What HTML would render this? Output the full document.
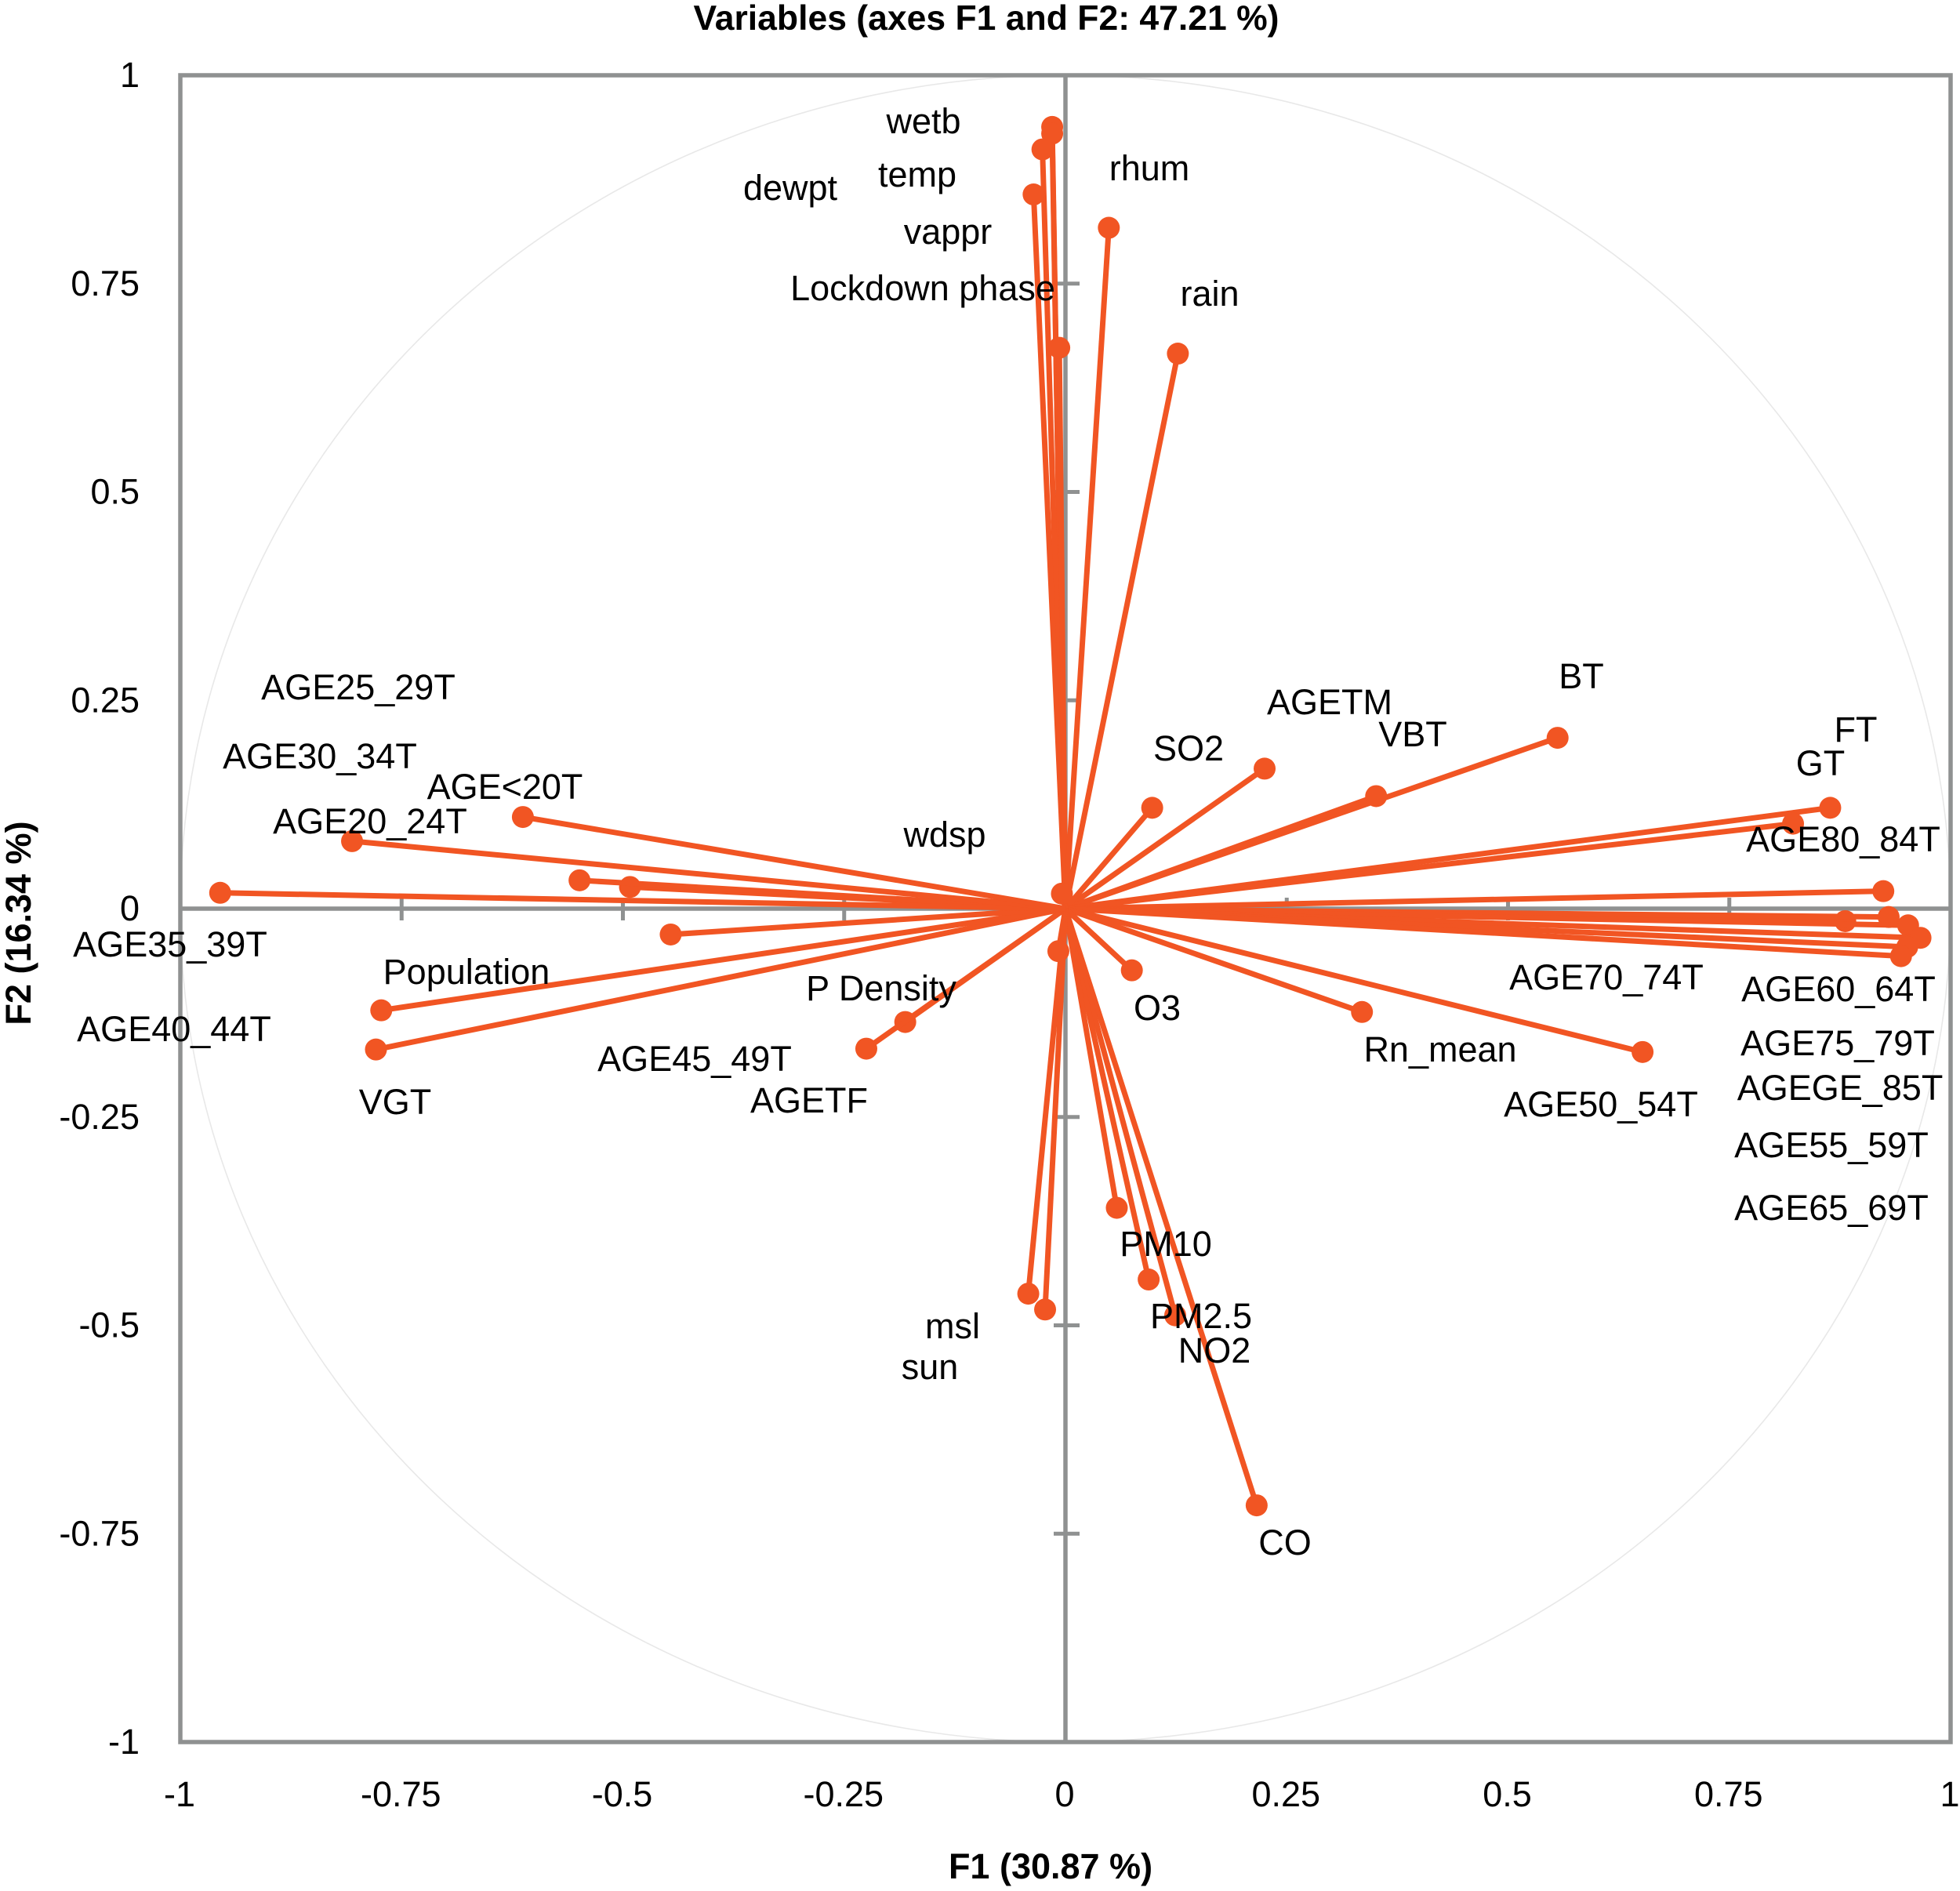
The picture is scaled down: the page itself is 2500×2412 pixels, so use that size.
<!DOCTYPE html>
<html lang="en">
<head>
<meta charset="utf-8">
<title>Variables (axes F1 and F2: 47.21 %)</title>
<style>
html,body{margin:0;padding:0;background:#fff;}
svg{display:block;}
text{font-family:"Liberation Sans",Arial,sans-serif;fill:#000;}
.lab{font-size:45px;text-anchor:middle;}
.ttl{font-size:45px;font-weight:bold;text-anchor:middle;}
</style>
</head>
<body>
<svg id="chart" xmlns="http://www.w3.org/2000/svg" width="2500" height="2412" viewBox="0 0 2500 2412">
<rect x="0" y="0" width="2500" height="2412" fill="#ffffff"/>
<g id="circle-layer"></g>
<g id="axis-layer"></g>
<g id="series-layer"></g>
<g id="tick-label-layer"></g>
<g transform="translate(0 -1)">
<text class="lab" x="1178" y="171">wetb</text>
<text class="lab" x="1466" y="231">rhum</text>
<text class="lab" x="1170" y="239">temp</text>
<text class="lab" x="1008" y="256">dewpt</text>
<text class="lab" x="1209" y="312">vappr</text>
<text class="lab" x="1177" y="384">Lockdown phase</text>
<text class="lab" x="1543" y="391">rain</text>
<text class="lab" x="2017" y="879">BT</text>
<text class="lab" x="457" y="893">AGE25_29T</text>
<text class="lab" x="1696" y="912">AGETM</text>
<text class="lab" x="2367" y="947">FT</text>
<text class="lab" x="1802" y="953">VBT</text>
<text class="lab" x="1516" y="971">SO2</text>
<text class="lab" x="408" y="981">AGE30_34T</text>
<text class="lab" x="2322" y="990">GT</text>
<text class="lab" x="644" y="1020">AGE&lt;20T</text>
<text class="lab" x="472" y="1064">AGE20_24T</text>
<text class="lab" x="1205" y="1081">wdsp</text>
<text class="lab" x="2351" y="1087">AGE80_84T</text>
<text class="lab" x="217" y="1221">AGE35_39T</text>
<text class="lab" x="595" y="1256">Population</text>
<text class="lab" x="2049" y="1263">AGE70_74T</text>
<text class="lab" x="1124" y="1277">P Density</text>
<text class="lab" x="2345" y="1278">AGE60_64T</text>
<text class="lab" x="1476" y="1302">O3</text>
<text class="lab" x="222" y="1329">AGE40_44T</text>
<text class="lab" x="2344" y="1347">AGE75_79T</text>
<text class="lab" x="1837" y="1355">Rn_mean</text>
<text class="lab" x="886" y="1367">AGE45_49T</text>
<text class="lab" x="2347" y="1404">AGEGE_85T</text>
<text class="lab" x="1032" y="1420">AGETF</text>
<text class="lab" x="504" y="1422">VGT</text>
<text class="lab" x="2042" y="1425">AGE50_54T</text>
<text class="lab" x="2336" y="1477">AGE55_59T</text>
<text class="lab" x="2336" y="1557">AGE65_69T</text>
<text class="lab" x="1487" y="1603">PM10</text>
<text class="lab" x="1532" y="1695">PM2.5</text>
<text class="lab" x="1215" y="1708">msl</text>
<text class="lab" x="1549" y="1739">NO2</text>
<text class="lab" x="1186" y="1760">sun</text>
<text class="lab" x="1639" y="1984">CO</text>
</g>
<text class="ttl" x="1258" y="38" style="font-size:44.5px">Variables (axes F1 and F2: 47.21 %)</text>
<text class="ttl" x="1340" y="2396">F1 (30.87 %)</text>
<text class="ttl" transform="translate(39 1177.5) rotate(-90)" x="0" y="0">F2 (16.34 %)</text>
</svg>
<script>
var categories = ["dewpt","temp","wetb","vappr","Lockdown phase","rhum","rain","BT","AGETM","VBT","SO2","FT","GT","AGE80_84T","AGE70_74T","AGE75_79T","AGE60_64T","AGE65_69T","AGEGE_85T","AGE55_59T","AGE50_54T","Rn_mean","O3","CO","NO2","PM2.5","PM10","msl","sun","wdsp","AGE45_49T","P Density","AGETF","VGT","Population","AGE40_44T","AGE35_39T","AGE30_34T","AGE25_29T","AGE20_24T","AGE<20T"];
var f1Values = [-0.015,-0.015,-0.026,-0.036,-0.007,0.049,0.127,0.556,0.225,0.351,0.098,0.864,0.822,0.924,0.881,0.930,0.952,0.966,0.951,0.944,0.652,0.335,0.075,0.216,0.124,0.094,0.058,-0.042,-0.023,-0.004,-0.008,-0.181,-0.225,-0.779,-0.773,-0.446,-0.492,-0.549,-0.955,-0.806,-0.613];
var f2Values = [0.938,0.930,0.911,0.857,0.673,0.817,0.666,0.205,0.168,0.135,0.121,0.121,0.102,0.021,-0.015,-0.010,-0.020,-0.035,-0.046,-0.057,-0.172,-0.124,-0.074,-0.716,-0.488,-0.445,-0.359,-0.462,-0.481,0.018,-0.051,-0.136,-0.168,-0.169,-0.122,-0.031,0.026,0.034,0.019,0.081,0.110];
var xTickLabels = ["-1","-0.75","-0.5","-0.25","0","0.25","0.5","0.75","1"];
var yTickLabels = ["-1","-0.75","-0.5","-0.25","0","0.25","0.5","0.75","1"];

var NS = "http://www.w3.org/2000/svg";
var LEFT = 230, RIGHT = 2488, TOP = 96, BOTTOM = 2222;
var CX = (LEFT + RIGHT) / 2, CY = (TOP + BOTTOM) / 2;
function xScale(v){ return CX + v * (RIGHT - LEFT) / 2; }
function yScale(v){ return CY - v * (BOTTOM - TOP) / 2; }
function slug(s){ return String(s).toLowerCase().replace(/[^a-z0-9]+/g, "-"); }
function make(tag, parent, attrs){
  var el = document.createElementNS(NS, tag);
  for (var k in attrs) el.setAttribute(k, attrs[k]);
  parent.appendChild(el);
  return el;
}

var circleLayer = document.getElementById("circle-layer");
var axisLayer = document.getElementById("axis-layer");
var seriesLayer = document.getElementById("series-layer");
var tickLabelLayer = document.getElementById("tick-label-layer");
var GRAY = "#8f9191", ORANGE = "#f15523";

var circle = make("ellipse", circleLayer, {cx: xScale(0), cy: yScale(0), rx: xScale(1) - xScale(0), ry: yScale(0) - yScale(1), fill: "none", stroke: "#e8e8e8", "stroke-width": 1.6});



var frame = make("rect", axisLayer, {x: LEFT, y: TOP, width: RIGHT - LEFT, height: BOTTOM - TOP, fill: "none", stroke: GRAY, "stroke-width": 5.5});



var xAxis = make("line", axisLayer, {x1: LEFT, x2: RIGHT, y1: yScale(0), y2: yScale(0), stroke: GRAY, "stroke-width": 5.5});



var yAxis = make("line", axisLayer, {x1: xScale(0), x2: xScale(0), y1: TOP, y2: BOTTOM, stroke: GRAY, "stroke-width": 5.5});



xTickLabels.forEach(function(label){
  var v = parseFloat(label), x = xScale(v);
  if (Math.abs(v) < 1 && v !== 0) {
    var tick = make("line", axisLayer, {x1: x, x2: x, y1: yScale(0) - 14, y2: yScale(0) + 15, stroke: GRAY, "stroke-width": 5});
    
    
  }
  var t = make("text", tickLabelLayer, {x: x - 1, y: 2304, "class": "lab"});
  
  
  t.textContent = label;
});

yTickLabels.forEach(function(label){
  var v = parseFloat(label), y = yScale(v);
  if (Math.abs(v) < 1 && v !== 0) {
    var tick = make("line", axisLayer, {x1: xScale(0) - 15, x2: xScale(0) + 18, y1: y, y2: y, stroke: GRAY, "stroke-width": 5});
    
    
  }
  var t = make("text", tickLabelLayer, {x: 178, y: y + 15, "class": "lab", style: "text-anchor:end"});
  
  
  t.textContent = label;
});

categories.forEach(function(name, i){
  var px = xScale(f1Values[i]), py = yScale(f2Values[i]);
  var vec = make("line", seriesLayer, {x1: xScale(0), y1: yScale(0), x2: px, y2: py, stroke: ORANGE, "stroke-width": 7});
  
  
  var dot = make("circle", seriesLayer, {cx: px, cy: py, r: 14, fill: ORANGE});
  
  
});
</script>
</body>
</html>
